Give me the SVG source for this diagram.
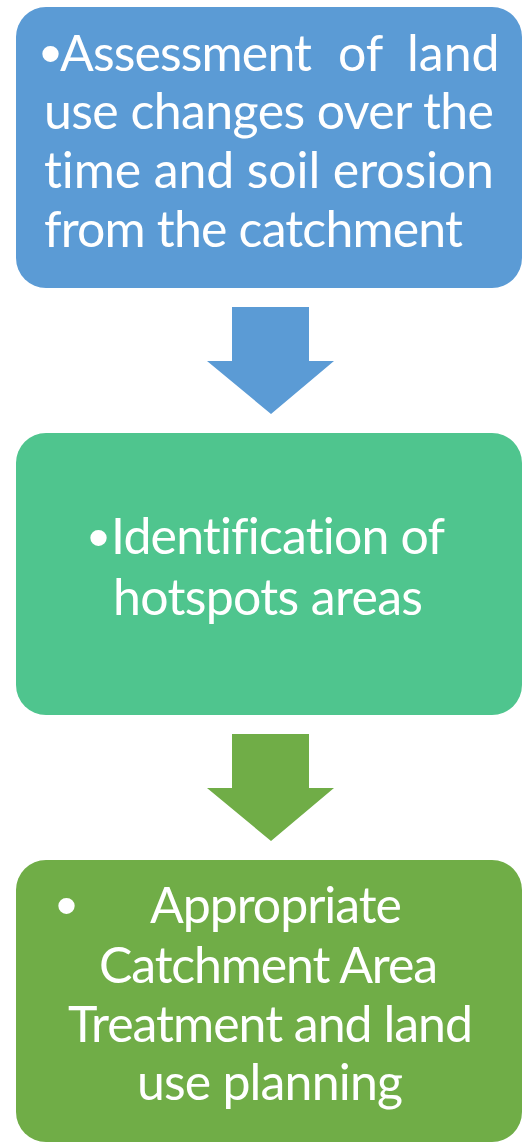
<svg xmlns="http://www.w3.org/2000/svg" width="527" height="1146" viewBox="0 0 527 1146">
<style>
.t{font-family:Lato,"Open Sans","Liberation Sans",sans-serif;font-size:50px;fill:#ffffff;font-variant-ligatures:none;font-feature-settings:"liga" 0,"clig" 0}
.b{font-family:"Liberation Sans",sans-serif;font-size:60px;fill:#ffffff}
</style>
<rect width="527" height="1146" fill="#ffffff"/>
<g id="connectors">
<polygon points="232,307 309,307 309,361 334,361 271,414 207,361 232,361" fill="#5B9BD5"/>
<polygon points="232,734 309,734 309,788 334,788 271,841 207,788 232,788" fill="#70AD47"/>
</g>
<g id="node1">
<rect x="16" y="7" width="506" height="281" rx="30" ry="30" fill="#5B9BD5"/>
<text class="b" x="40" y="74">•</text>
<text class="t" y="71"><tspan x="60" textLength="252" lengthAdjust="spacing">Assessment</tspan><tspan x="338">of</tspan><tspan x="407">land</tspan></text>
<text class="t" x="44" y="129" textLength="450" lengthAdjust="spacing">use changes over the</text>
<text class="t" x="44" y="188" textLength="450" lengthAdjust="spacing">time and soil erosion</text>
<text class="t" x="44" y="247" textLength="419" lengthAdjust="spacing">from the catchment</text>
</g>
<g id="node2">
<rect x="16" y="433" width="506" height="282" rx="30" ry="30" fill="#4FC58E"/>
<text class="b" x="88" y="558">•</text>
<text class="t" x="111" y="554" textLength="334" lengthAdjust="spacing">Identification of</text>
<text class="t" x="113" y="615" textLength="310" lengthAdjust="spacing">hotspots areas</text>
</g>
<g id="node3">
<rect x="16" y="860" width="506" height="282" rx="30" ry="30" fill="#70AD47"/>
<text class="b" x="56" y="926">•</text>
<text class="t" x="150" y="923" textLength="252" lengthAdjust="spacing">Appropriate</text>
<text class="t" x="99" y="983" textLength="339" lengthAdjust="spacing">Catchment Area</text>
<text class="t" x="68" y="1042" textLength="405" lengthAdjust="spacing">Treatment and land</text>
<text class="t" x="137" y="1100" textLength="266" lengthAdjust="spacing">use planning</text>
</g>
</svg>
